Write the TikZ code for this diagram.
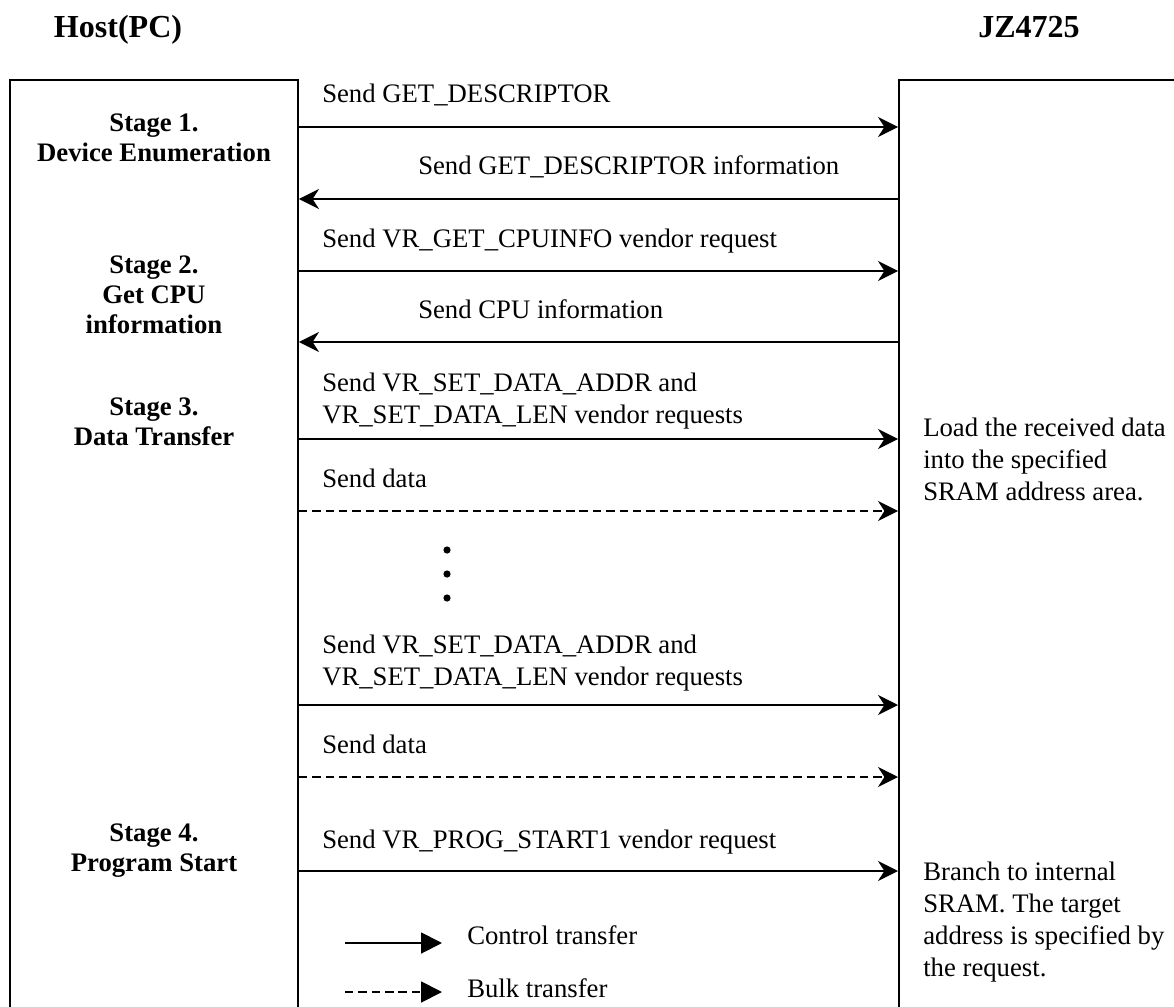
\documentclass[tikz,border=0pt]{standalone}
\usepackage{fontspec}
\setmainfont{Liberation Serif}
\usetikzlibrary{arrows.meta}

\begin{document}
\begin{tikzpicture}[
    font=\fontsize{19}{22.8}\selectfont,
    every node/.style={inner sep=0pt},
    title/.style={font=\fontsize{22.8}{27}\selectfont\bfseries, anchor=base},
    stage/.style={font=\fontsize{19}{21.3}\selectfont\bfseries,
      align=center, anchor=north},
    msg/.style={anchor=base west},
    msgblock/.style={anchor=north west, align=left},
    note/.style={anchor=north west, align=left},
    side/.style={draw, line width=1.4pt, rectangle, minimum height=25cm},
    ctrl/.style={-{Stealth[length=5mm, width=5mm, inset=1.6mm]}, line width=1.4pt},
    bulk/.style={ctrl, dash pattern=on 6pt off 3.5pt},
    legctrl/.style={-{Triangle[length=5.2mm, width=5.2mm]}, line width=1.4pt},
    legbulk/.style={legctrl, dash pattern=on 6pt off 3.5pt}
  ]
  \useasboundingbox (0,0) rectangle (29.35,-25.175);
  \clip (0,0) rectangle (29.35,-25.175);

  % titles
  \node[title] (hostTitle) at (2.95,-0.95) {Host(PC)};
  \node[title] (devTitle) at (25.725,-0.95) {JZ4725};

  % the two sides
  \node[side, minimum width=7.2cm, anchor=north] (host) at (3.85,-1.975) {};
  \node[side, minimum width=8cm, anchor=north west] (dev) at (22.45,-1.975) {};

  % stages
  \node[stage] (stage1) at (3.85,-2.83) {Stage 1.\\Device Enumeration};
  \node[stage] (stage2) at (3.85,-6.4) {Stage 2.\\Get CPU\\information};
  \node[stage] (stage3) at (3.85,-9.95) {Stage 3.\\Data Transfer};
  \node[stage] (stage4) at (3.85,-20.6) {Stage 4.\\Program Start};

  % rows
  \coordinate (r1) at (0,-3.175);
  \coordinate (r2) at (0,-4.975);
  \coordinate (r3) at (0,-6.775);
  \coordinate (r4) at (0,-8.55);
  \coordinate (r5) at (0,-10.975);
  \coordinate (r6) at (0,-12.775);
  \coordinate (r7) at (0,-17.625);
  \coordinate (r8) at (0,-19.425);
  \coordinate (r9) at (0,-21.775);

  \node[msg] (m1) at (8.05,-2.575) {Send GET\_DESCRIPTOR};
  \node[msg] (m2) at (10.45,-4.375) {Send GET\_DESCRIPTOR information};
  \node[msg] (m3) at (8.05,-6.175) {Send VR\_GET\_CPUINFO vendor request};
  \node[msg] (m4) at (10.45,-7.95) {Send CPU information};
  \node[msgblock] (m5) at (8.05,-9.325)
    {Send VR\_SET\_DATA\_ADDR and\\VR\_SET\_DATA\_LEN vendor requests};
  \node[msg] (m6) at (8.05,-12.175) {Send data};
  \node[msgblock] (m7) at (8.05,-15.875)
    {Send VR\_SET\_DATA\_ADDR and\\VR\_SET\_DATA\_LEN vendor requests};
  \node[msg] (m8) at (8.05,-18.825) {Send data};
  \node[msg] (m9) at (8.05,-21.2) {Send VR\_PROG\_START1 vendor request};

  \draw[ctrl] (host.east |- r1) -- (dev.west |- r1);
  \draw[ctrl] (dev.west |- r2) -- (host.east |- r2);
  \draw[ctrl] (host.east |- r3) -- (dev.west |- r3);
  \draw[ctrl] (dev.west |- r4) -- (host.east |- r4);
  \draw[ctrl] (host.east |- r5) -- (dev.west |- r5);
  \draw[bulk] (host.east |- r6) -- (dev.west |- r6);
  \draw[ctrl] (host.east |- r7) -- (dev.west |- r7);
  \draw[bulk] (host.east |- r8) -- (dev.west |- r8);
  \draw[ctrl] (host.east |- r9) -- (dev.west |- r9);

  % more of the same
  \foreach \y in {13.75,14.35,14.95}
    \fill (11.175,-\y) circle (0.09);

  % device side
  \node[note] (load) at (23.075,-10.45)
    {Load the received data\\into the specified\\SRAM address area.};
  \node[note] (branch) at (23.075,-21.55)
    {Branch to internal\\SRAM. The target\\address is specified by\\the request.};

  % legend
  \coordinate (lgCtrlA) at (8.625,-23.575);
  \coordinate (lgCtrlB) at (11.05,-23.575);
  \coordinate (lgBulkA) at (8.625,-24.8);
  \coordinate (lgBulkB) at (11.05,-24.8);
  \draw[legctrl] (lgCtrlA) -- (lgCtrlB);
  \draw[legbulk] (lgBulkA) -- (lgBulkB);
  \node[msg] (lgCtrl) at (11.675,-23.6) {Control transfer};
  \node[msg] (lgBulk) at (11.675,-24.925) {Bulk transfer};
\end{tikzpicture}
\end{document}
